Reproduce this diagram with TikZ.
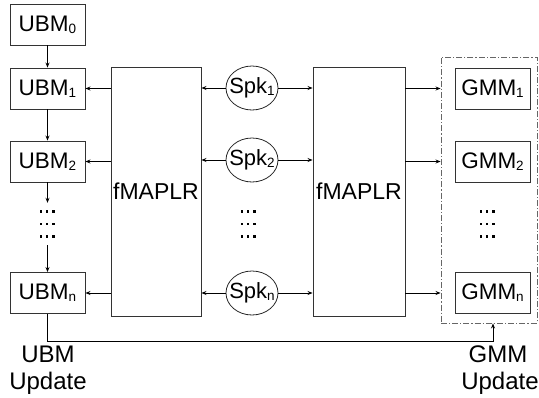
\documentclass[tikz,border=0pt]{standalone}
\usepackage{fontspec}
\setmainfont{Liberation Sans}
\usetikzlibrary{arrows.meta,shapes.geometric}
\newcommand{\subn}[1]{\raisebox{-2pt}{\fontsize{13.5}{14}\selectfont #1}}
\begin{document}
\begin{tikzpicture}[x=1pt,y=-1pt,
  box/.style={draw=black!80, line width=0.9pt, minimum width=75pt, minimum height=41pt, inner sep=0pt, font=\fontsize{22.5}{24}\selectfont},
  bigbox/.style={draw=black!80, line width=0.9pt, minimum width=90pt, minimum height=249pt, inner sep=0pt, font=\fontsize{23}{25}\selectfont},
  spk/.style={ellipse, draw=black!85, line width=0.8pt, minimum width=52pt, minimum height=44pt, inner sep=0pt, font=\fontsize{22}{24}\selectfont},
  grp/.style={draw=black!60, line width=0.9pt, dash pattern=on 6pt off 2pt on 1.2pt off 2pt, minimum width=96pt, minimum height=266pt, inner sep=0pt},
  conn/.style={draw=black, line width=0.8pt, -{Stealth[length=5pt,width=4pt]}},
  lbl/.style={inner sep=0pt, anchor=base, font=\fontsize{24}{26}\selectfont},
  dotsbox/.style={minimum width=20pt, minimum height=42pt, inner sep=0pt,
    path picture={\foreach \i in {-1,0,1}{\foreach \j in {-1,0,1}{
      \fill[black] ([shift={(\i*6.3pt-1.2pt,\j*12.5pt-1.2pt)}]path picture bounding box.center) rectangle ++(2.4pt,2.4pt);}}}}
]
\useasboundingbox (0,0) rectangle (539,397);

% UBM column
\node[box] (u0) at (47.5,24.5) {UBM\subn{0}};
\node[box] (u1) at (47.5,88.5) {UBM\subn{1}};
\node[box] (u2) at (47.5,161.5) {UBM\subn{2}};
\node[dotsbox] (ud) at (47,224) {};
\node[box] (un) at (47.5,293) {UBM\subn{n}};

% fMAPLR boxes
\node[bigbox] (fl) at (156,191.5) {fMAPLR};
\node[bigbox, minimum width=92pt] (fr) at (359,191.5) {fMAPLR};

% speakers
\node[spk] (s1) at (252,88) {\makebox[0pt]{Spk\subn{1}}};
\node[spk] (s2) at (252,160) {\makebox[0pt]{Spk\subn{2}}};
\node[dotsbox] (sd) at (248,224) {};
\node[spk] (sn) at (252,293) {\makebox[0pt]{Spk\subn{n}}};

% GMM group
\node[grp] (g) at (489,190) {};
\node[box] (g1) at (492.5,88.5) {GMM\subn{1}};
\node[box] (g2) at (492.5,161.5) {GMM\subn{2}};
\node[dotsbox] (gd) at (487,224) {};
\node[box] (gn) at (492.5,293) {GMM\subn{n}};

% labels
\node[lbl] (ul1) at (48,362) {UBM};
\node[lbl] (ul2) at (48,389) {Update};
\node[lbl] (gl1) at (498,362) {GMM};
\node[lbl] (gl2) at (500,389) {Update};

% vertical UBM chain
\draw[conn] (u0.south) -- (u1.north);
\draw[conn] (u1.south) -- (u2.north);
\draw[conn] (u2.south) -- (u2.south |- ud.north);
\draw[conn] (un.north |- ud.south) -- (un.north);

% fMAPLR -> UBM
\draw[conn] (fl.west |- u1.east) -- (u1.east);
\draw[conn] (fl.west |- u2.east) -- (u2.east);
\draw[conn] (fl.west |- un.east) -- (un.east);

% Spk -> fMAPLR (left)
\draw[conn] (s1.west) -- (fl.east |- s1.west);
\draw[conn] (s2.west) -- (fl.east |- s2.west);
\draw[conn] (sn.west) -- (fl.east |- sn.west);

% Spk -> fMAPLR (right)
\draw[conn] (s1.east) -- (fr.west |- s1.east);
\draw[conn] (s2.east) -- (fr.west |- s2.east);
\draw[conn] (sn.east) -- (fr.west |- sn.east);

% fMAPLR -> GMM group
\draw[conn] (fr.east |- g1.west) -- (g.west |- g1.west);
\draw[conn] (fr.east |- g2.west) -- (g.west |- g2.west);
\draw[conn] (fr.east |- gn.west) -- (g.west |- gn.west);

% update return line
\coordinate (ret) at (493,341);
\draw[conn] (un.south) |- (ret) -- (ret |- g.south);
\end{tikzpicture}
\end{document}
